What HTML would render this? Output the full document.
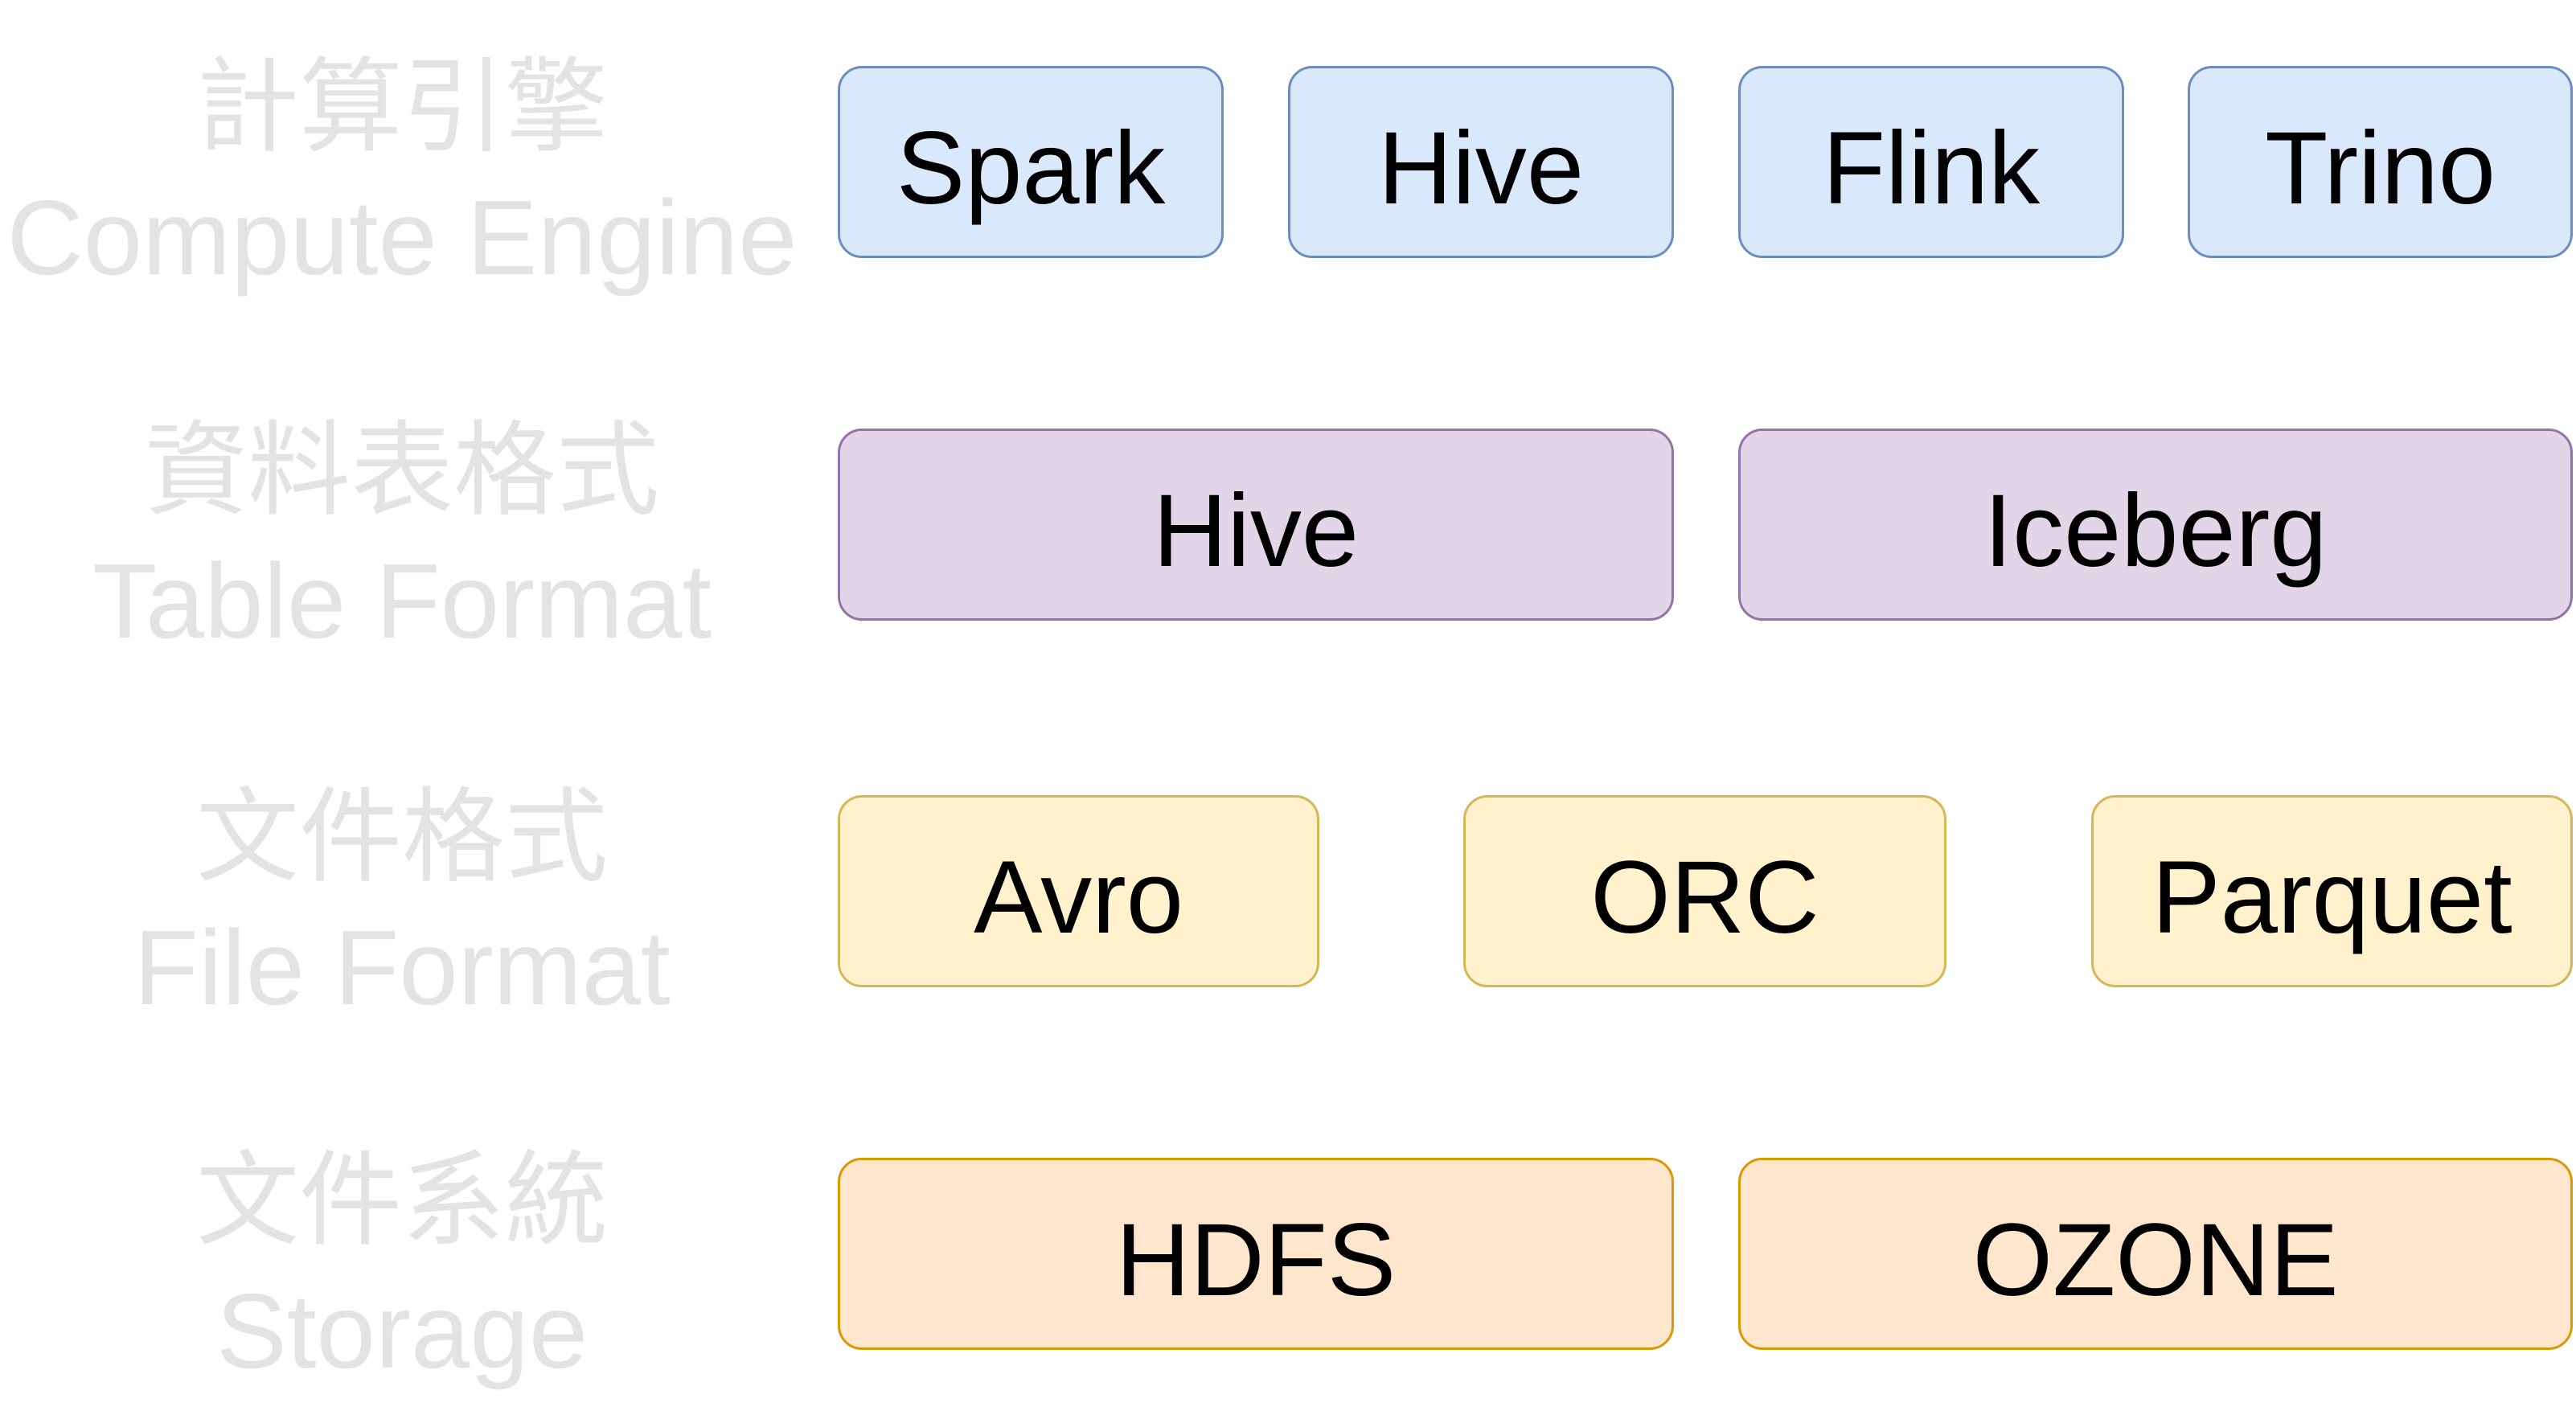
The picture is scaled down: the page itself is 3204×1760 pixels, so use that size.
<!DOCTYPE html>
<html><head><meta charset="utf-8"><style>
body{margin:0;width:3204px;height:1760px;background:#fff;position:relative;overflow:hidden;font-family:"Liberation Sans","Noto Sans CJK TC",sans-serif;}
.b{position:absolute;box-sizing:border-box;border:3.5px solid;border-radius:30px;display:flex;align-items:center;justify-content:center;font-size:128px;color:#000;padding-top:16px;}
.e{background:#dae8fc;border-color:#6c8ebf}
.t{background:#e1d5e7;border-color:#9673a6}
.f{background:#fff2cc;border-color:#d6b656}
.s{background:#ffe6cc;border-color:#d79b00}
.l{position:absolute;left:0;width:1000px;text-align:center;color:#e3e3e3;line-height:1;}
.l .c{font-size:128px;display:block;height:160px;}
.l .n{font-size:132px;display:block;}
</style></head><body>
<div class="l" style="top:70px"><span class="c">計算引擎</span><span class="n">Compute Engine</span></div>
<div class="l" style="top:522px"><span class="c">資料表格式</span><span class="n">Table Format</span></div>
<div class="l" style="top:978px"><span class="c">文件格式</span><span class="n">File Format</span></div>
<div class="l" style="top:1430px"><span class="c">文件系統</span><span class="n">Storage</span></div>

<div class="b e" style="left:1042px;top:82px;width:480px;height:239px">Spark</div>
<div class="b e" style="left:1602px;top:82px;width:480px;height:239px">Hive</div>
<div class="b e" style="left:2162px;top:82px;width:480px;height:239px">Flink</div>
<div class="b e" style="left:2721px;top:82px;width:479px;height:239px">Trino</div>

<div class="b t" style="left:1042px;top:533px;width:1040px;height:239px">Hive</div>
<div class="b t" style="left:2162px;top:533px;width:1038px;height:239px">Iceberg</div>

<div class="b f" style="left:1042px;top:989px;width:599px;height:239px">Avro</div>
<div class="b f" style="left:1820px;top:989px;width:601px;height:239px">ORC</div>
<div class="b f" style="left:2601px;top:989px;width:599px;height:239px">Parquet</div>

<div class="b s" style="left:1042px;top:1440px;width:1040px;height:239px">HDFS</div>
<div class="b s" style="left:2162px;top:1440px;width:1038px;height:239px">OZONE</div>
</body></html>
